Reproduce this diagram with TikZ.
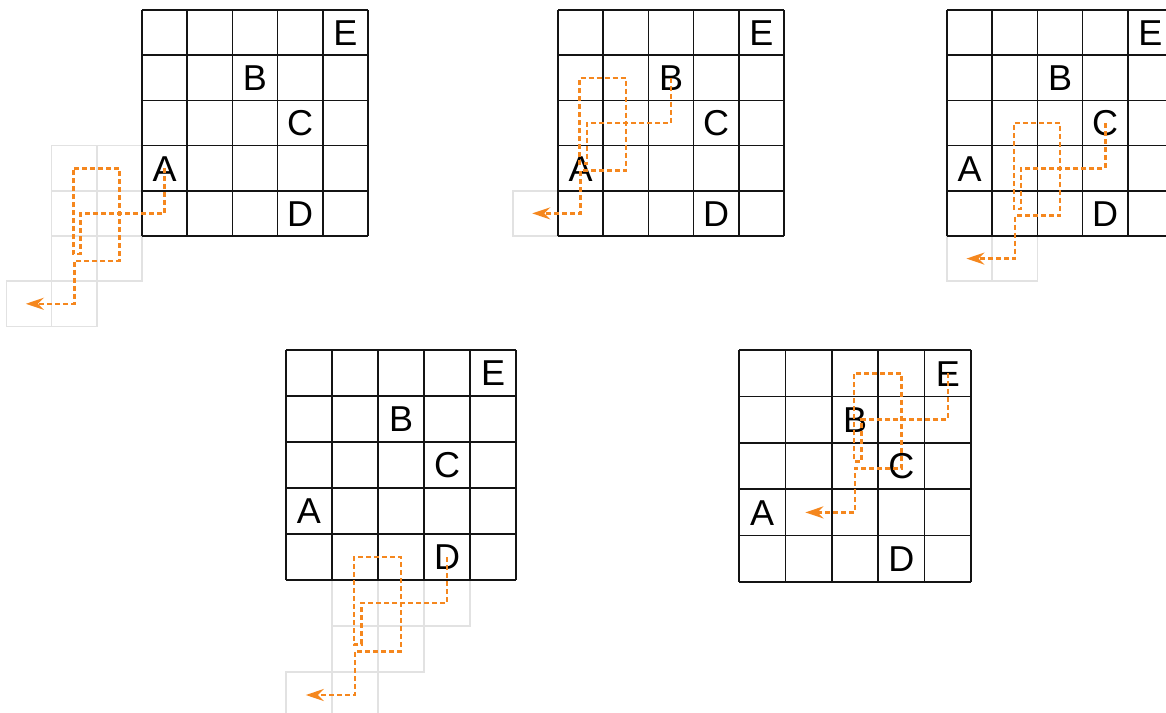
\documentclass[tikz,border=0pt]{standalone}
\usepackage{fontspec}
\setmainfont{Liberation Sans}
\usetikzlibrary{arrows.meta}
\definecolor{routeorange}{RGB}{245,135,30}
\definecolor{ghostgray}{RGB}{226,226,226}
\definecolor{inkblack}{RGB}{20,20,20}
\tikzset{
  gridline/.style={draw=inkblack, line width=1.5pt},
  ghostcell/.style={draw=ghostgray, line width=1.5pt},
  letter/.style={font=\fontsize{36}{36}\selectfont, text height=25.8pt, text depth=0pt, inner sep=0pt, anchor=center},
  routeline/.style={draw=routeorange, line width=2.6pt, dash pattern=on 5pt off 3pt, line join=miter,
    -{Stealth[length=18pt,width=12pt,inset=6pt]}},
}
\newcommand\boardgrid{%
  \foreach \k in {0,...,5} {
    \draw[gridline] (\k,0) -- (\k,5);
    \draw[gridline] (0,\k) -- (5,\k);
  }
}
\newcommand\ghost[2]{\draw[ghostcell] (#1,#2) rectangle ++(1,1);}
\newcommand\boardletters[1]{%
  \node[letter] (#1E) at (4.5,0.5) {E};
  \node[letter] (#1B) at (2.5,1.5) {B};
  \node[letter] (#1C) at (3.5,2.5) {C};
  \node[letter] (#1A) at (0.5,3.5) {A};
  \node[letter] (#1D) at (3.5,4.5) {D};
}
\newcommand\routefrom[2]{%
  \draw[routeline] (#1.center) -- ++(0,1) -- ++(-1.86,0) -- ++(0,0.9) -- ++(-0.16,0)
    -- ++(0,-1.9) -- ++(1.02,0) -- ++(0,2.05) -- ++(-1,0) -- ++(0,0.95) -- ++(-1.07,0) coordinate (#2);
}
\begin{document}
\begin{tikzpicture}[x=1pt,y=-1pt]
\useasboundingbox (0,0) rectangle (1166,712);
\clip (0,0) rectangle (1166,712);
\fill[white] (0,0) rectangle (1166,712);

% board 1: route from A
\begin{scope}[shift={(142pt,-10pt)}, x=45.2pt, y=-45.2pt]
  \ghost{-2}{3}\ghost{-1}{3}\ghost{-2}{4}\ghost{-1}{4}\ghost{-2}{5}\ghost{-1}{5}
  \ghost{-3}{6}\ghost{-2}{6}
  \boardgrid
  \boardletters{ga}
  \routefrom{gaA}{gaend}
\end{scope}

% board 2: route from B
\begin{scope}[shift={(558pt,-10pt)}, x=45.2pt, y=-45.2pt]
  \ghost{-1}{4}
  \boardgrid
  \boardletters{gb}
  \routefrom{gbB}{gbend}
\end{scope}

% board 3: route from C
\begin{scope}[shift={(947pt,-10pt)}, x=45.2pt, y=-45.2pt]
  \ghost{0}{5}\ghost{1}{5}
  \boardgrid
  \boardletters{gc}
  \routefrom{gcC}{gcend}
\end{scope}

% board 4: route from D
\begin{scope}[shift={(286pt,-350pt)}, x=46pt, y=-46pt]
  \ghost{1}{5}\ghost{2}{5}\ghost{3}{5}
  \ghost{1}{6}\ghost{2}{6}
  \ghost{0}{7}\ghost{1}{7}
  \boardgrid
  \boardletters{gd}
  \routefrom{gdD}{gdend}
\end{scope}

% board 5: route from E
\begin{scope}[shift={(739pt,-350pt)}, x=46.4pt, y=-46.4pt]
  \boardgrid
  \boardletters{ge}
  \routefrom{geE}{geend}
\end{scope}
\end{tikzpicture}
\end{document}
